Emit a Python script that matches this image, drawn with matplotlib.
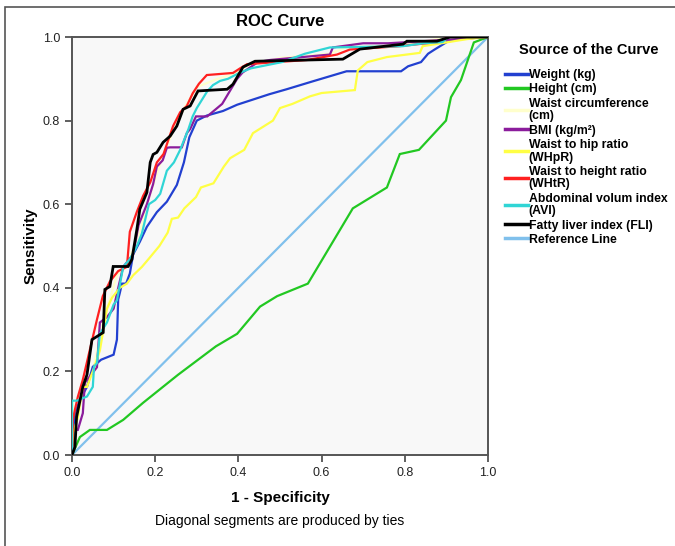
import matplotlib
matplotlib.use("Agg")
import matplotlib.pyplot as plt
from matplotlib.patches import Rectangle

plt.rcParams['font.family'] = ['Liberation Sans', 'DejaVu Sans']

# ROC curve points (1 - specificity, sensitivity)
weight_x = [0, 0.007, 0.019, 0.036, 0.05, 0.07, 0.1, 0.108, 0.111, 0.115, 0.12, 0.13, 0.139, 0.147, 0.163, 0.18, 0.204, 0.228, 0.252, 0.269, 0.282, 0.30, 0.324, 0.363, 0.397, 0.474, 0.516, 0.579, 0.66, 0.791, 0.808, 0.839, 0.856, 0.87, 0.901, 0.925, 1.0]
weight_y = [0, 0.10, 0.132, 0.163, 0.211, 0.228, 0.24, 0.276, 0.372, 0.388, 0.41, 0.41, 0.434, 0.48, 0.51, 0.546, 0.581, 0.606, 0.646, 0.7, 0.76, 0.8, 0.812, 0.823, 0.838, 0.863, 0.875, 0.894, 0.918, 0.918, 0.93, 0.94, 0.96, 0.969, 0.988, 0.995, 1.0]

height_x = [0, 0.019, 0.043, 0.084, 0.123, 0.171, 0.255, 0.346, 0.397, 0.452, 0.493, 0.567, 0.675, 0.757, 0.788, 0.834, 0.899, 0.911, 0.935, 0.966, 1.0]
height_y = [0, 0.043, 0.06, 0.06, 0.084, 0.125, 0.192, 0.26, 0.29, 0.355, 0.38, 0.41, 0.59, 0.64, 0.72, 0.73, 0.80, 0.856, 0.897, 0.987, 1.0]

wc_x = [0, 0.002, 0.012, 0.03, 0.05, 0.06, 0.075, 0.093, 0.108, 0.13, 0.15, 0.165, 0.18, 0.2, 0.22, 0.245, 0.27, 0.3, 0.35, 0.385, 0.42, 0.5, 0.62, 0.66, 0.78, 0.85, 0.9, 1.0]
wc_y = [0, 0.13, 0.13, 0.16, 0.2, 0.25, 0.32, 0.38, 0.43, 0.45, 0.5, 0.54, 0.6, 0.66, 0.72, 0.78, 0.83, 0.88, 0.9, 0.91, 0.93, 0.95, 0.96, 0.975, 0.98, 0.99, 1.0, 1.0]

bmi_x = [0, 0.0, 0.014, 0.026, 0.031, 0.05, 0.06, 0.067, 0.084, 0.1, 0.11, 0.123, 0.147, 0.16, 0.18, 0.195, 0.204, 0.218, 0.228, 0.236, 0.264, 0.276, 0.284, 0.298, 0.325, 0.361, 0.373, 0.385, 0.397, 0.41, 0.447, 0.476, 0.62, 0.627, 0.7, 0.76, 0.93, 1.0]
bmi_y = [0, 0.06, 0.06, 0.10, 0.173, 0.197, 0.21, 0.317, 0.33, 0.35, 0.395, 0.45, 0.48, 0.55, 0.6, 0.648, 0.69, 0.705, 0.735, 0.736, 0.736, 0.77, 0.78, 0.81, 0.81, 0.84, 0.86, 0.88, 0.9, 0.915, 0.94, 0.945, 0.958, 0.975, 0.985, 0.985, 0.995, 1.0]

whpr_x = [0, 0.002, 0.014, 0.026, 0.036, 0.05, 0.067, 0.084, 0.096, 0.115, 0.132, 0.147, 0.168, 0.185, 0.21, 0.23, 0.24, 0.255, 0.27, 0.298, 0.31, 0.34, 0.365, 0.38, 0.414, 0.435, 0.483, 0.5, 0.53, 0.572, 0.6, 0.68, 0.687, 0.71, 0.757, 0.836, 0.843, 0.95, 1.0]
whpr_y = [0, 0.05, 0.09, 0.163, 0.163, 0.2, 0.25, 0.35, 0.376, 0.4, 0.41, 0.43, 0.45, 0.47, 0.5, 0.532, 0.565, 0.568, 0.59, 0.617, 0.64, 0.65, 0.69, 0.71, 0.73, 0.77, 0.8, 0.83, 0.84, 0.858, 0.866, 0.873, 0.92, 0.94, 0.952, 0.962, 0.978, 0.995, 1.0]

whtr_x = [0, 0.002, 0.007, 0.014, 0.026, 0.043, 0.06, 0.074, 0.091, 0.111, 0.132, 0.139, 0.156, 0.171, 0.188, 0.204, 0.22, 0.232, 0.243, 0.26, 0.276, 0.29, 0.305, 0.324, 0.387, 0.404, 0.421, 0.565, 0.637, 0.668, 0.786, 0.88, 0.904, 1.0]
whtr_y = [0, 0.084, 0.108, 0.139, 0.18, 0.252, 0.324, 0.38, 0.415, 0.44, 0.45, 0.534, 0.582, 0.62, 0.652, 0.7, 0.72, 0.755, 0.787, 0.82, 0.835, 0.865, 0.888, 0.909, 0.914, 0.925, 0.935, 0.945, 0.958, 0.97, 0.978, 0.988, 1.0, 1.0]

avi_x = [0, 0.0, 0.012, 0.036, 0.05, 0.053, 0.06, 0.067, 0.084, 0.1, 0.108, 0.123, 0.14, 0.156, 0.168, 0.18, 0.185, 0.2, 0.212, 0.228, 0.245, 0.26, 0.272, 0.28, 0.29, 0.3, 0.325, 0.339, 0.356, 0.375, 0.4, 0.43, 0.505, 0.56, 0.62, 0.795, 0.845, 0.891, 0.904, 1.0]
avi_y = [0, 0.13, 0.13, 0.14, 0.163, 0.211, 0.22, 0.29, 0.317, 0.36, 0.37, 0.45, 0.47, 0.5, 0.53, 0.58, 0.6, 0.61, 0.625, 0.68, 0.7, 0.73, 0.76, 0.78, 0.81, 0.83, 0.87, 0.885, 0.895, 0.90, 0.913, 0.925, 0.94, 0.96, 0.975, 0.978, 0.985, 0.988, 1.0, 1.0]

fli_x = [0, 0.007, 0.011, 0.026, 0.036, 0.048, 0.075, 0.079, 0.091, 0.099, 0.135, 0.144, 0.156, 0.163, 0.18, 0.188, 0.195, 0.204, 0.219, 0.236, 0.252, 0.267, 0.284, 0.303, 0.373, 0.387, 0.411, 0.44, 0.651, 0.692, 0.796, 0.805, 0.877, 0.909, 1.0]
fli_y = [0, 0.019, 0.091, 0.163, 0.192, 0.276, 0.293, 0.396, 0.403, 0.451, 0.451, 0.468, 0.54, 0.588, 0.628, 0.70, 0.719, 0.724, 0.748, 0.763, 0.787, 0.827, 0.835, 0.871, 0.875, 0.887, 0.928, 0.942, 0.947, 0.971, 0.983, 0.99, 0.99, 1.0, 1.0]

ref_x = [0, 1]
ref_y = [0, 1]

labels = ["Weight (kg)", "Height (cm)", "Waist circumference\n(cm)", "BMI (kg/m\u00b2)",
          "Waist to hip ratio\n(WHpR)", "Waist to height ratio\n(WHtR)",
          "Abdominal volum index\n(AVI)", "Fatty liver index (FLI)", "Reference Line"]
colors = ["#2240D0", "#22C822", "#FFFFCC", "#8B1C9C", "#FFFF44", "#FF2020", "#30D5D5", "#000000", "#80C0EC"]
series = [(weight_x, weight_y), (height_x, height_y), (wc_x, wc_y), (bmi_x, bmi_y),
          (whpr_x, whpr_y), (whtr_x, whtr_y), (avi_x, avi_y), (fli_x, fli_y), (ref_x, ref_y)]
widths = [1.6, 1.6, 1.6, 1.6, 1.6, 1.6, 1.6, 2.0, 1.6]
zorder = [3, 3, 2, 3, 3, 4, 5, 6, 1]

fig = plt.figure(figsize=(6.75, 5.46), dpi=100)
ax = fig.add_axes([72 / 675, 1 - 455 / 546, (488 - 72) / 675, (455 - 37) / 546])
ax.set_facecolor("#F8F8F8")

handles = []
for (xs, ys), lab, c, lw, z in zip(series, labels, colors, widths, zorder):
    h, = ax.plot(xs, ys, color=c, lw=lw, label=lab, zorder=z, solid_joinstyle='miter')
    handles.append(h)

ax.set_xlim(0, 1)
ax.set_ylim(0, 1)
ticks = [0.0, 0.2, 0.4, 0.6, 0.8, 1.0]
ax.set_xticks(ticks)
ax.set_yticks(ticks)
ax.set_xticklabels([f"{t:.1f}" for t in ticks])
ax.set_yticklabels([f"{t:.1f}" for t in ticks])
ax.tick_params(direction='out', length=5, width=1.2, colors='#444444', labelcolor='#222222', labelsize=9)
for s in ax.spines.values():
    s.set_color('#555555')
    s.set_linewidth(1.4)

ax.set_title("ROC Curve", fontsize=12, fontweight='bold', pad=8)
ax.set_xlabel("1 - Specificity", fontsize=11, fontweight='bold', labelpad=9)
ax.set_ylabel("Sensitivity", fontsize=11, fontweight='bold', labelpad=4)
fig.text(280 / 675, 1 - 521 / 546, "Diagonal segments are produced by ties", ha='center', va='center', fontsize=10)

leg = fig.legend(handles=handles, labels=labels, loc='upper left', bbox_to_anchor=(500 / 675, 1 - 38 / 546),
                 frameon=False, prop={'weight': 'bold', 'size': 8.8},
                 handlelength=1.85, handletextpad=0.1, labelspacing=0.17, borderaxespad=0,
                 title="Source of the Curve", title_fontproperties={'weight': 'bold', 'size': 10.5})
leg._legend_box.align = "left"
leg._legend_box.sep = 9
leg.get_title().set_position((14, 0))
for t in leg.get_texts():
    t.set_linespacing(1.1)
for lh in leg.legend_handles:
    lh.set_linewidth(2.5)

fig.patches.append(Rectangle((5 / 675, -0.05), 1.1, 1 - 7 / 546 + 0.05, transform=fig.transFigure,
                             fill=False, edgecolor='#555555', lw=1.2))

fig.savefig("out.png", dpi=100)
